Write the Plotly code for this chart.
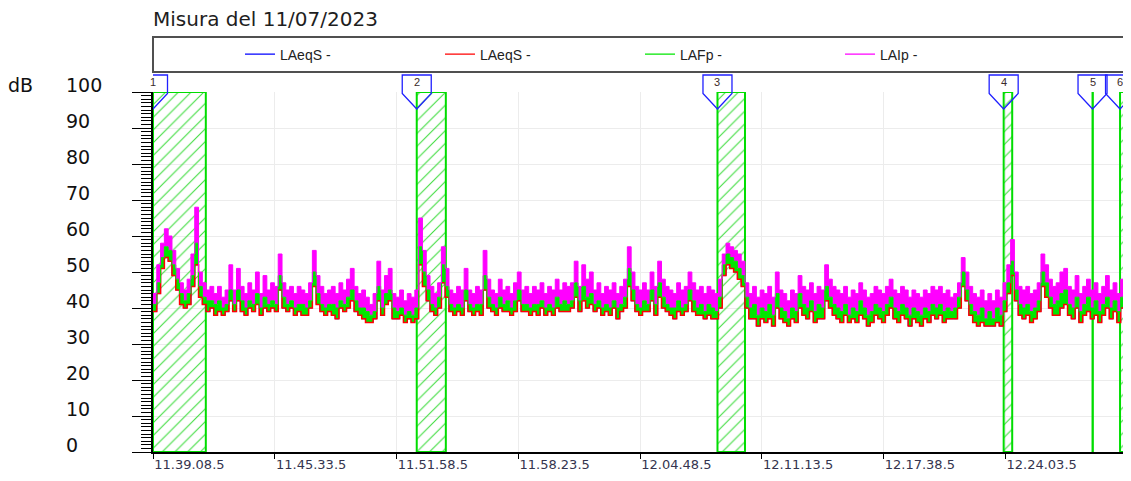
import pandas as pd
import plotly.graph_objects as go

# ---------------- data ----------------
title_text = "Misura del 11/07/2023"
start_time = "2023-07-11 11:39:08.5"
end_time = "2023-07-11 12:30:28.5"
sample_step = "12s"

x_tick_times = ["2023-07-11 11:39:08.5", "2023-07-11 11:45:33.5", "2023-07-11 11:51:58.5",
                "2023-07-11 11:58:23.5", "2023-07-11 12:04:48.5", "2023-07-11 12:11:13.5",
                "2023-07-11 12:17:38.5", "2023-07-11 12:24:03.5"]
y_ticks = [0, 10, 20, 30, 40, 50, 60, 70, 80, 90, 100]
y_unit = "dB"

series_names = ["LAeqS -", "LAeqS -", "LAFp -", "LAIp -"]
series_colors = ["#0000ff", "#ff0000", "#00e600", "#ff00ff"]

# LAeqS (dB)
laeqs = [
    39, 44, 51, 54, 53, 49, 45, 41, 40, 41,
    46, 52, 43, 41, 39, 40, 38, 39, 38, 39,
    42, 39, 42, 39, 38, 40, 39, 41, 38, 40,
    39, 40, 39, 45, 40, 39, 40, 38, 39, 38,
    38, 40, 46, 41, 39, 38, 39, 38, 37, 40,
    39, 40, 42, 39, 38, 37, 36, 36, 37, 42,
    38, 41, 42, 37, 37, 38, 36, 37, 36, 37,
    52, 46, 42, 39, 38, 40, 47, 43, 39, 38,
    39, 38, 42, 39, 38, 39, 38, 45, 40, 39,
    38, 40, 39, 39, 38, 39, 42, 39, 39, 38,
    39, 38, 40, 38, 39, 38, 40, 39, 39, 39,
    40, 43, 39, 42, 40, 41, 39, 40, 38, 39,
    38, 40, 37, 39, 40, 46, 42, 39, 38, 39,
    39, 42, 38, 43, 40, 39, 38, 37, 39, 38,
    39, 42, 39, 38, 38, 37, 38, 37, 37, 40,
    49, 52, 51, 50, 48, 46, 40, 37, 37, 35,
    37, 36, 37, 35, 40, 37, 36, 35, 37, 36,
    40, 38, 37, 39, 36, 37, 37, 42, 40, 38,
    37, 36, 38, 36, 37, 36, 38, 37, 35, 36,
    38, 37, 36, 38, 40, 37, 36, 38, 37, 35,
    37, 36, 35, 37, 36, 38, 37, 38, 36, 37,
    37, 37, 40, 46, 42, 38, 36, 35, 36, 35,
    35, 35, 36, 35, 39, 44, 49, 42, 38, 37,
    38, 36, 37, 39, 46, 43, 40, 38, 38, 40,
    41, 38, 37, 40, 36, 38, 39, 37, 38, 36,
    38, 40, 37, 39, 36, 40, 48, 45,
]

# LAFp (dB)
lafp = [
    41, 47, 54, 57, 56, 52, 48, 44, 42, 44,
    49, 58, 46, 43, 42, 42, 41, 42, 40, 41,
    45, 41, 45, 42, 40, 42, 41, 44, 40, 43,
    41, 42, 41, 49, 43, 41, 42, 40, 41, 41,
    40, 42, 50, 44, 41, 40, 41, 41, 40, 42,
    41, 43, 45, 42, 40, 40, 39, 38, 39, 46,
    40, 44, 45, 40, 39, 40, 38, 39, 38, 40,
    57, 50, 45, 41, 40, 43, 52, 46, 41, 40,
    41, 40, 45, 41, 40, 41, 41, 49, 43, 41,
    40, 43, 41, 42, 40, 42, 45, 41, 41, 40,
    41, 41, 42, 40, 41, 40, 43, 41, 42, 41,
    42, 47, 42, 46, 43, 44, 41, 42, 40, 41,
    40, 42, 40, 41, 43, 51, 45, 41, 40, 42,
    41, 45, 41, 47, 43, 41, 40, 40, 42, 40,
    41, 45, 42, 40, 41, 39, 41, 40, 39, 43,
    52, 55, 54, 53, 51, 49, 43, 40, 41, 38,
    40, 39, 41, 38, 44, 40, 39, 37, 40, 39,
    44, 41, 40, 42, 39, 41, 40, 46, 43, 41,
    40, 39, 41, 38, 40, 39, 42, 40, 38, 39,
    41, 40, 39, 41, 43, 40, 39, 41, 40, 38,
    40, 39, 38, 40, 39, 41, 40, 41, 39, 40,
    39, 40, 43, 50, 45, 41, 39, 38, 40, 37,
    39, 37, 40, 38, 42, 47, 53, 45, 41, 40,
    41, 39, 40, 42, 50, 47, 43, 41, 42, 44,
    45, 41, 40, 43, 39, 41, 43, 40, 42, 39,
    41, 43, 40, 42, 39, 43, 53, 49,
]

# LAIp (dB)
laip = [
    44, 52, 58, 62, 60, 56, 51, 47, 45, 48,
    55, 68, 50, 47, 45, 46, 44, 46, 43, 45,
    52, 45, 51, 46, 44, 47, 45, 50, 44, 49,
    45, 47, 46, 55, 47, 45, 46, 44, 46, 45,
    44, 47, 56, 49, 46, 44, 45, 46, 44, 47,
    45, 48, 51, 46, 44, 45, 43, 41, 44, 53,
    45, 49, 51, 44, 43, 45, 42, 44, 43, 45,
    65, 56, 49, 46, 44, 47, 57, 51, 45, 44,
    46, 45, 51, 45, 44, 46, 45, 56, 48, 45,
    44, 48, 45, 46, 44, 47, 50, 45, 46, 44,
    46, 45, 47, 44, 46, 45, 48, 45, 47, 46,
    47, 53, 46, 52, 48, 50, 45, 47, 44, 46,
    45, 47, 44, 46, 48, 57, 50, 46, 45, 47,
    45, 50, 46, 53, 48, 46, 45, 44, 47, 45,
    46, 50, 47, 45, 46, 44, 46, 45, 44, 48,
    55, 58, 57, 56, 55, 53, 47, 44, 46, 43,
    45, 44, 46, 43, 50, 45, 44, 42, 45, 44,
    49, 46, 45, 47, 44, 46, 45, 52, 48, 46,
    45, 44, 46, 43, 45, 44, 47, 45, 43, 44,
    46, 45, 44, 46, 48, 45, 44, 46, 45, 43,
    45, 44, 43, 45, 44, 46, 45, 46, 44, 45,
    43, 44, 47, 54, 50, 46, 44, 43, 45, 42,
    44, 42, 45, 43, 47, 52, 59, 50, 46, 45,
    46, 44, 45, 47, 55, 52, 48, 46, 47, 50,
    51, 46, 45, 49, 44, 46, 48, 45, 47, 44,
    46, 49, 45, 47, 44, 48, 59, 54,
]

region_labels = ["1", "2", "3", "4", "5", "6"]
region_start = ["2023-07-11 11:39:08.5", "2023-07-11 11:53:02.5", "2023-07-11 12:08:53.5",
                "2023-07-11 12:23:58.5", "2023-07-11 12:28:39.5", "2023-07-11 12:30:06.5"]
region_end = ["2023-07-11 11:41:55.5", "2023-07-11 11:54:34.5", "2023-07-11 12:10:20.5",
              "2023-07-11 12:24:25.5", "2023-07-11 12:28:40.5", "2023-07-11 12:30:25.5"]
region_top = [100, 100, 100, 100, 100, 100]

# ---------------- figure ----------------
times = pd.date_range(start_time, periods=len(laip), freq=sample_step)
region_width_ms = [(pd.Timestamp(e) - pd.Timestamp(s)).total_seconds() * 1000
                   for s, e in zip(region_start, region_end)]

FONT = "Liberation Sans, Arial, sans-serif"
WIDE = "DejaVu Sans, Verdana, sans-serif"

fig = go.Figure()

# hatched marker regions
fig.add_trace(go.Bar(
    x=region_start, y=region_top, base=0, width=region_width_ms, offset=0,
    marker=dict(color="rgba(0,0,0,0)",
                line=dict(color="#00dd00", width=2),
                pattern=dict(shape="/", fgcolor="#3ddc3d", bgcolor="rgba(255,255,255,0)",
                             size=9, solidity=0.12, fillmode="replace")),
    showlegend=False, hoverinfo="skip",
))

# legend entries
for name, col in zip(series_names, series_colors):
    fig.add_trace(go.Scatter(x=[None], y=[None], mode="lines", name=name,
                             line=dict(color=col, width=1.2)))

# series
fig.add_trace(go.Scatter(x=times, y=laeqs, mode="lines", line=dict(color=series_colors[0], width=1, shape="hv"),
                         showlegend=False))
fig.add_trace(go.Scatter(x=times, y=laeqs, mode="lines", line=dict(color=series_colors[1], width=1.5, shape="hv"),
                         showlegend=False))
fig.add_trace(go.Scatter(x=times, y=lafp, mode="lines", line=dict(color=series_colors[2], width=1, shape="hv"),
                         fill="tonexty", fillcolor=series_colors[2], showlegend=False))
fig.add_trace(go.Scatter(x=times, y=laip, mode="lines", line=dict(color=series_colors[3], width=1, shape="hv"),
                         fill="tonexty", fillcolor=series_colors[3], showlegend=False))

shapes = []
annotations = []

# legend frame
shapes.append(dict(type="rect", xref="paper", yref="paper", x0=0, x1=1,
                   y0=(452 - 72) / 360, y1=(452 - 37) / 360,
                   line=dict(color="#505050", width=2), fillcolor="rgba(0,0,0,0)", layer="above"))

# markers (pentagon flags)
for lab, t in zip(region_labels, region_start):
    shapes.append(dict(type="path", xref="x", yref="paper",
                       xsizemode="pixel", ysizemode="pixel", xanchor=t, yanchor=1,
                       path="M -14.5 17 L 14.5 17 L 14.5 -1.5 L 0 -17 L -14.5 -1.5 Z",
                       line=dict(color="#2020ff", width=1.3), fillcolor="rgba(0,0,0,0)"))
    annotations.append(dict(x=t, xref="x", y=1, yref="paper", yshift=10.5, yanchor="middle",
                            xanchor="center", text=lab, showarrow=False,
                            font=dict(family=FONT, size=11, color="#3a2a2a")))

# y tick labels
for v in y_ticks:
    annotations.append(dict(x=(64 - 153) / 974, xref="paper", y=v, yref="y", yshift=7,
                            xanchor="left", yanchor="middle", text=str(v), showarrow=False,
                            font=dict(family=WIDE, size=19, color="#111111")))
annotations.append(dict(x=(6 - 153) / 974, xref="paper", y=100, yref="y", yshift=7,
                        xanchor="left", yanchor="middle", text=y_unit, showarrow=False,
                        font=dict(family=WIDE, size=19, color="#111111")))

# page body adds an 8px offset; figure sized so the plot sits where the reference has it
fig.update_layout(
    width=1123, height=473,
    margin=dict(l=145, r=4, t=84, b=29, autoexpand=False),
    paper_bgcolor="white", plot_bgcolor="white",
    font=dict(family=FONT, size=12, color="#222222"),
    title=dict(text=title_text, x=0, xref="paper", xanchor="left",
               y=1 - 11 / 473, yref="container", yanchor="middle",
               font=dict(family=WIDE, size=20, color="#1e1e1e")),
    showlegend=True,
    legend=dict(orientation="h", x=0.5, xanchor="center", y=(452 - 54.5) / 360, yanchor="middle",
                traceorder="normal",
                bgcolor="rgba(0,0,0,0)", borderwidth=0, entrywidth=155, entrywidthmode="pixels",
                font=dict(family=FONT, size=14, color="#222222"), itemclick=False),
    barmode="overlay",
    shapes=shapes,
    annotations=annotations,
)

fig.update_xaxes(
    type="date", range=[start_time, end_time],
    tickvals=x_tick_times, tickformat="%H.%M.%S.%1f",
    ticklabelposition="outside right", ticks="outside", ticklen=5, tickcolor="#000000",
    tickfont=dict(family=WIDE, size=13, color="#34344e"),
    showgrid=True, gridcolor="#ececec", gridwidth=1,
    showline=True, linecolor="#000000", linewidth=1.5, zeroline=False,
)
fig.update_yaxes(
    range=[0, 100], tickvals=y_ticks, showticklabels=False,
    ticks="outside", ticklen=19, tickcolor="#000000", tickwidth=1,
    minor=dict(dtick=1, ticks="outside", ticklen=10, tickcolor="#000000", tickwidth=1, showgrid=False),
    showgrid=True, gridcolor="#ececec", gridwidth=1,
    showline=True, linecolor="#000000", linewidth=1.5, mirror=True, zeroline=False,
)

fig.write_html("out.html")
